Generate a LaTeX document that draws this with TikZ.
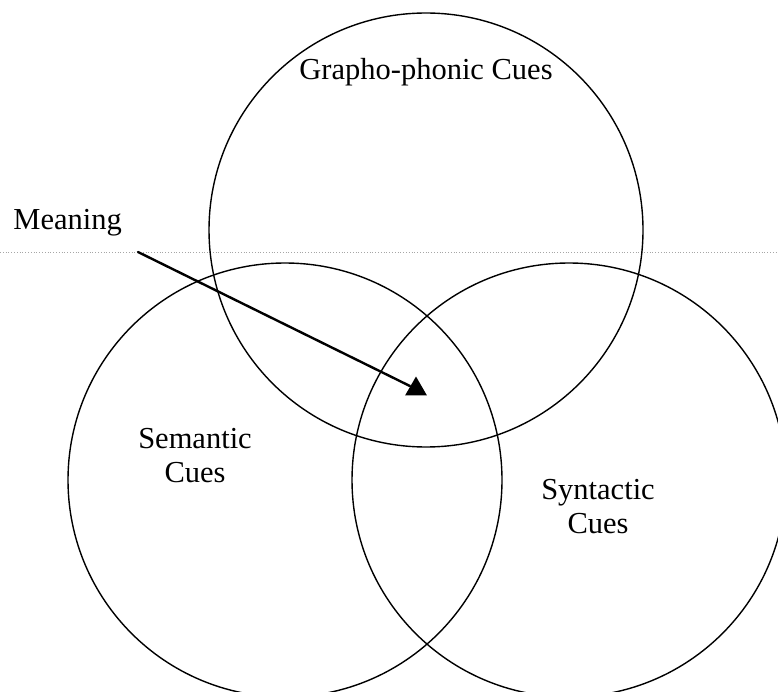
\documentclass[tikz,border=0pt]{standalone}
\usepackage{fontspec}
\setmainfont{Liberation Serif}
\usetikzlibrary{shapes.geometric}

\begin{document}
\begin{tikzpicture}[x=1pt, y=-1pt, thick,
    cue/.style = {draw, circle, line width=1.4pt, minimum size=434pt, inner sep=0pt},
    lbl/.style = {font=\fontsize{30.5}{34}\selectfont, align=center, inner sep=0pt},
    tipmark/.style = {regular polygon, regular polygon sides=3, fill=black, minimum size=25pt, inner sep=0pt}]
    \useasboundingbox (0,0) rectangle (778,692);

    % guide line
    \coordinate (gl) at (0,252);
    \coordinate (gr) at (778,252);
    \draw[gray!70, dotted, line width=0.8pt] (gl) -- (gr);

    % circles
    \node[cue] (grapho) at (426,230) {};
    \node[cue] (semantic) at (285,480) {};
    \node[cue] (syntactic) at (569,480) {};

    % labels
    \node[lbl] (gtext) at (426,72) {Grapho-phonic Cues};
    \node[lbl] (stext) at (195,456) {Semantic\\Cues};
    \node[lbl] (ytext) at (598,507) {Syntactic\\Cues};
    \node[lbl, anchor=base west] (meaning) at (13,230) {Meaning};

    % arrow
    \coordinate (mstart) at (138,252);
    \node[tipmark] (tip) at (416,389) {};
    \draw[line width=2.4pt, line cap=round] (mstart) -- (tip);
\end{tikzpicture}
\end{document}
